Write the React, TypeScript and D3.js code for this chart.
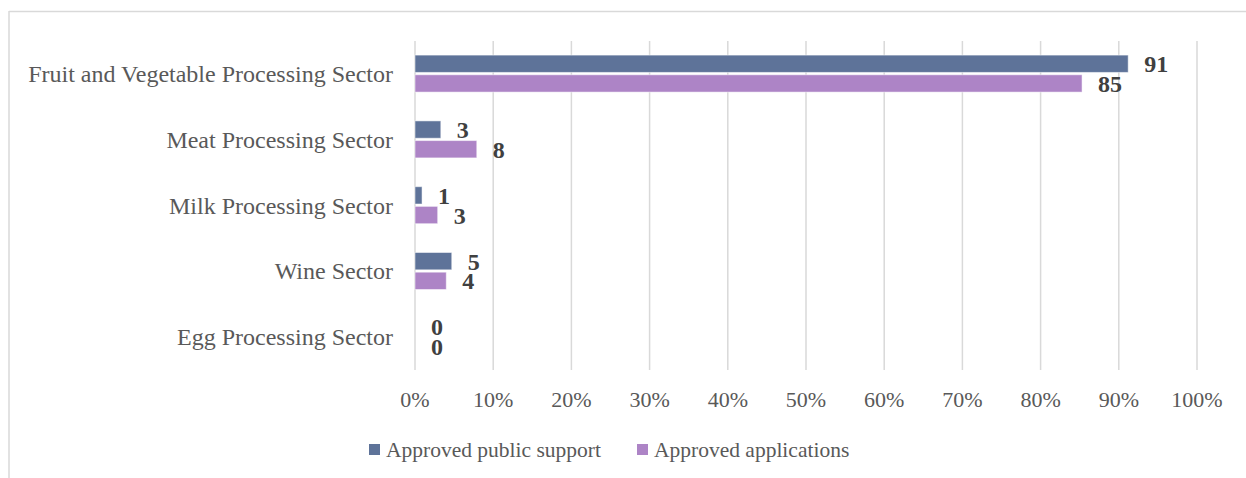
import React from "react";
import * as d3 from "d3";

const categories = [
  "Fruit and Vegetable Processing Sector",
  "Meat Processing Sector",
  "Milk Processing Sector",
  "Wine Sector",
  "Egg Processing Sector",
];
const seriesNames = ["Approved public support", "Approved applications"];
const publicSupport = [91.2, 3.3, 0.9, 4.7, 0];
const applications = [85.3, 7.9, 2.9, 4.0, 0];
const labelsPublic = ["91", "3", "1", "5", "0"];
const labelsApps = ["85", "8", "3", "4", "0"];
const ticks = [0, 10, 20, 30, 40, 50, 60, 70, 80, 90, 100];
const colors = ["#5E7399", "#AD84C6"];

const W = 1246;
const H = 478;
const FONT = "'Liberation Serif', 'Times New Roman', serif";

export default function App() {
  const x = d3.scaleLinear().domain([0, 100]).range([415, 1197]);
  const y = d3.scaleBand<string>().domain(categories).range([41, 370]);
  const inner = d3
    .scaleBand<string>()
    .domain(seriesNames)
    .range([-18.8, 18.2])
    .paddingInner(0.12);
  const series = [
    { name: seriesNames[0], values: publicSupport, labels: labelsPublic, color: colors[0] },
    { name: seriesNames[1], values: applications, labels: labelsApps, color: colors[1] },
  ];
  return (
    <>
      <style>{"body{margin:0}"}</style>
      <svg width={W} height={H} style={{ display: "block", background: "#fff" }}>
        <line x1={9} y1={11.5} x2={W} y2={11.5} stroke="#d9d9d9" strokeWidth={1.5} />
        <line x1={9} y1={11} x2={9} y2={H} stroke="#d9d9d9" strokeWidth={1.5} />
        {ticks.map((t) => (
          <g key={t}>
            <line x1={x(t)} x2={x(t)} y1={41} y2={370} stroke="#d9d9d9" strokeWidth={1.5} />
            <text
              x={x(t)}
              y={407}
              textAnchor="middle"
              fontFamily={FONT}
              fontSize={22}
              fill="#595959"
            >
              {t + "%"}
            </text>
          </g>
        ))}
        {categories.map((c) => {
          const cy = (y(c) as number) + y.bandwidth() / 2;
          return (
            <text
              key={c}
              x={393}
              y={cy + 8}
              textAnchor="end"
              fontFamily={FONT}
              fontSize={24}
              fill="#595959"
            >
              {c}
            </text>
          );
        })}
        {series.map((s) =>
          categories.map((c, i) => {
            const cy = (y(c) as number) + y.bandwidth() / 2;
            const by = cy + (inner(s.name) as number);
            const bh = inner.bandwidth();
            const w = x(s.values[i]) - x(0);
            return (
              <g key={s.name + c}>
                {w > 0 && (
                  <rect
                    x={x(0)}
                    y={by}
                    width={w}
                    height={bh}
                    fill={s.color}
                    stroke="#ffffff"
                    strokeOpacity={0.5}
                    strokeWidth={1}
                  />
                )}
                <text
                  x={x(s.values[i]) + 16}
                  y={by + bh / 2 + 8.5}
                  fontFamily={FONT}
                  fontSize={24}
                  fontWeight="bold"
                  fill="#404040"
                >
                  {s.labels[i]}
                </text>
              </g>
            );
          })
        )}
        {series.map((s, i) => {
          const lx = i === 0 ? 369 : 637;
          return (
            <g key={s.name}>
              <rect x={lx} y={444} width={11} height={11} fill={s.color} />
              <text x={lx + 17} y={457} fontFamily={FONT} fontSize={21.5} fill="#595959">
                {s.name}
              </text>
            </g>
          );
        })}
      </svg>
    </>
  );
}
